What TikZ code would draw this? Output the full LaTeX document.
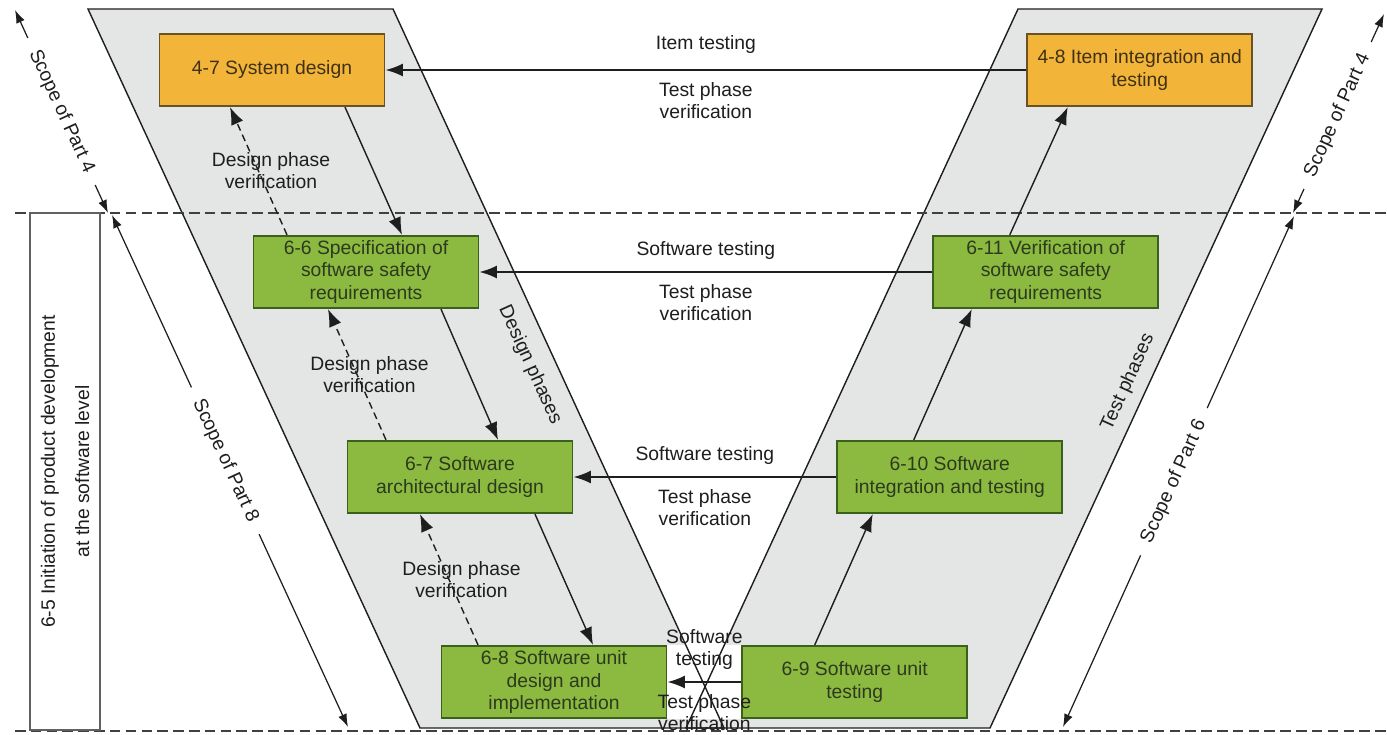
\documentclass[tikz,border=0pt]{standalone}
\usepackage{fontspec}
\setmainfont{Liberation Sans}
\usetikzlibrary{arrows.meta, positioning, calc}
\definecolor{sysorange}{HTML}{F2B53A}
\definecolor{sysedge}{HTML}{6B5220}
\definecolor{swgreen}{HTML}{8CB93F}
\definecolor{swedge}{HTML}{3B5F1C}
\definecolor{swtext}{HTML}{2C3A1F}
\definecolor{bandgray}{HTML}{E4E6E5}
\definecolor{inkdark}{HTML}{1E1E1E}

\begin{document}
\begin{tikzpicture}[
  phasebox/.style={rectangle, line width=1pt, minimum width=45mm,
    minimum height=14.5mm, align=center, inner sep=2pt,
    font=\fontsize{11}{13}\selectfont},
  sysbox/.style={phasebox, draw=sysedge, fill=sysorange, text=sysedge!60!black},
  swbox/.style={phasebox, draw=swedge, fill=swgreen, text=swtext},
  >={Latex[length=3.5mm, width=2.6mm]},
  arr/.style={draw=inkdark, line width=0.8pt, ->},
  tarr/.style={draw=inkdark, line width=1.1pt, ->},
  varr/.style={arr, dash pattern=on 4pt off 2.5pt},
  lbl/.style={font=\fontsize{11}{12.5}\selectfont, text=inkdark, align=center, inner sep=1pt},
  tup/.style={lbl, above=1.9mm, midway},
  tdown/.style={lbl, below=2mm, midway},
  dlab/.style={lbl, midway, xshift=2.5mm},
  scopearr/.style={draw=inkdark, line width=0.7pt, <->, >={Latex[length=2.6mm, width=1.8mm]}},
  slab/.style={lbl, fill=white, sloped, inner xsep=8pt, inner ysep=2pt},
  limitline/.style={draw=inkdark!85, line width=0.8pt, dash pattern=on 6pt off 3pt},
]

% Background
\fill[white] (0,0) rectangle (27.74,14.68);
\useasboundingbox (0,0) rectangle (27.74,14.68);

% V bands
\fill[bandgray] (1.76,14.50) -- (7.86,14.50) -- (14.48,0.12) -- (8.40,0.12) -- cycle;
\fill[bandgray] (20.36,14.50) -- (26.44,14.50) -- (19.80,0.12) -- (13.72,0.12) -- cycle;

% Phases
\node[sysbox] (sysdes) at (5.44,13.28) {4-7 System design};
\node[sysbox, right=12.82cm of sysdes] (iteminteg) {4-8 Item integration and\\testing};
\node[swbox] (swreq) at (7.32,9.24) {6-6 Specification of\\software safety\\requirements};
\node[swbox, right=9.06cm of swreq] (swver) {6-11 Verification of\\software safety\\requirements};
\node[swbox] (swarch) at (9.20,5.14) {6-7 Software\\architectural design};
\node[swbox, right=5.26cm of swarch] (swinteg) {6-10 Software\\integration and testing};
\node[swbox] (swunit) at (11.08,1.04) {6-8 Software unit\\design and\\implementation};
\node[swbox, right=1.48cm of swunit] (swutest) {6-9 Software unit\\testing};

\fill[white] (swunit.north east) rectangle (swutest.south west);

\draw[inkdark, line width=0.8pt] (1.76,14.50) -- (7.86,14.50) -- (14.48,0.12) -- (8.40,0.12) -- cycle;
\draw[inkdark, line width=0.8pt] (20.36,14.50) -- (26.44,14.50) -- (19.80,0.12) -- (13.72,0.12) -- cycle;

% Part limits
\draw[limitline] (0.3,10.42) -- (27.74,10.42);
\draw[limitline] (0.3,0.06) -- (27.74,0.06);

\node[lbl, draw=inkdark!70, line width=0.8pt, rotate=90, inner sep=2pt,
  minimum width=103.4mm, minimum height=14mm] (swinit) at (1.30,5.25)
  {6-5 Initiation of product development\\[7pt]at the software level};

% Test phase verification
\draw[tarr] (iteminteg) -- node[tup, above=2.8mm] {Item testing}
  node[tdown] {Test phase\\verification} (sysdes);
\draw[tarr] (swver) -- node[tup] {Software testing}
  node[tdown] {Test phase\\verification} (swreq);
\draw[tarr] (swinteg) -- node[tup] {Software testing}
  node[tdown] {Test phase\\verification} (swarch);
\draw[tarr] (swutest) -- node[tup] {Software\\testing}
  node[tdown] {Test phase\\verification} (swunit);

% Design phases
\draw[arr] ($(sysdes.south)+(1.46,0)$) -- ($(swreq.north)+(0.72,0)$);
\draw[arr] ($(swreq.south)+(1.50,0)$) -- ($(swarch.north)+(0.76,0)$);
\draw[arr] ($(swarch.south)+(1.50,0)$) -- ($(swunit.north)+(0.78,0)$);

\draw[varr] ($(swreq.north)+(-1.58,0)$) -- node[dlab] {Design phase\\verification}
  ($(sysdes.south)+(-0.84,0)$);
\draw[varr] ($(swarch.north)+(-1.48,0)$) -- node[dlab] {Design phase\\verification}
  ($(swreq.south)+(-0.76,0)$);
\draw[varr] ($(swunit.north)+(-1.52,0)$) -- node[dlab] {Design phase\\verification}
  ($(swarch.south)+(-0.80,0)$);

% Test phases
\draw[arr] ($(swutest.north)+(-0.80,0)$) -- ($(swinteg.south)+(-1.54,0)$);
\draw[arr] ($(swinteg.north)+(-0.72,0)$) -- ($(swver.south)+(-1.48,0)$);
\draw[arr] ($(swver.north)+(-0.72,0)$) -- ($(iteminteg.south)+(-1.44,0)$);

\node[lbl, rotate=-65.5] (desphase) at (10.60,7.38) {Design phases};
\node[lbl, rotate=65.5] (testphase) at (22.56,7.04) {Test phases};

% Scopes
\coordinate (pfourl) at (0.30,14.48);
\coordinate (limitl) at (2.16,10.42);
\coordinate (peighttop) at (2.24,10.38);
\coordinate (peightbot) at (6.96,0.14);
\coordinate (limitr) at (25.86,10.42);
\coordinate (pfourr) at (27.68,14.40);
\coordinate (psixbot) at (21.26,0.14);
\coordinate (psixtop) at (25.88,10.36);

\draw[scopearr] (pfourl) -- node[slab, pos=0.5] {Scope of Part 4} (limitl);
\draw[scopearr] (peighttop) -- node[slab, pos=0.48] {Scope of Part 8} (peightbot);
\draw[scopearr] (limitr) -- node[slab, pos=0.49] {Scope of Part 4} (pfourr);
\draw[scopearr] (psixbot) -- node[slab, pos=0.48] {Scope of Part 6} (psixtop);
\end{tikzpicture}
\end{document}
